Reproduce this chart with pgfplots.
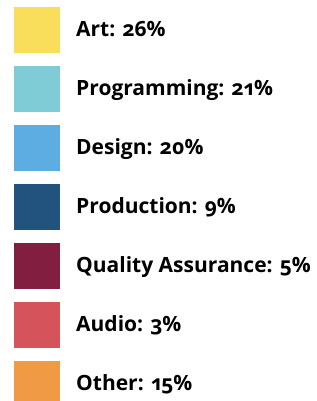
\documentclass[border=0pt]{standalone}
\usepackage{pgfplots}
\pgfplotsset{compat=1.18}
\usepackage{fontspec}
\setmainfont{Open Sans}[Numbers=OldStyle]
\definecolor{cArt}{HTML}{F8DE5B}
\definecolor{cProg}{HTML}{7FCBD6}
\definecolor{cDes}{HTML}{5DADE2}
\definecolor{cProd}{HTML}{22527E}
\definecolor{cQA}{HTML}{821F40}
\definecolor{cAud}{HTML}{D5535A}
\definecolor{cOth}{HTML}{F19A45}
\newcommand{\entry}[4]{%
  \addplot[only marks, mark=square*, mark size=22.5pt, color=#1,
    point meta=explicit,
    nodes near coords={#2: \pgfmathprintnumber{\pgfplotspointmeta}\%},
    every node near coord/.style={anchor=base west, black, xshift=39.5pt, yshift=-7.2pt, inner sep=0pt, font=\fontsize{21}{24}\selectfont\bfseries}]
    coordinates {(36.5,#3) [#4]};}
\begin{document}
\begin{tikzpicture}
\begin{axis}[
  width=316pt, height=401pt, scale only axis,
  xmin=0, xmax=316, ymin=0, ymax=401, y dir=reverse,
  hide axis, clip marker paths=true,
  /pgf/number format/assume math mode=true,
]
\entry{cArt}{Art}{29.5}{26}
\entry{cProg}{Programming}{88.5}{21}
\entry{cDes}{Design}{147.5}{20}
\entry{cProd}{Production}{206.5}{9}
\entry{cQA}{Quality Assurance}{265.5}{5}
\entry{cAud}{Audio}{324.5}{3}
\entry{cOth}{Other}{383.5}{15}
\end{axis}
\pgfresetboundingbox
\path[use as bounding box] (current axis.south west) rectangle (current axis.north east);
\end{tikzpicture}
\end{document}
